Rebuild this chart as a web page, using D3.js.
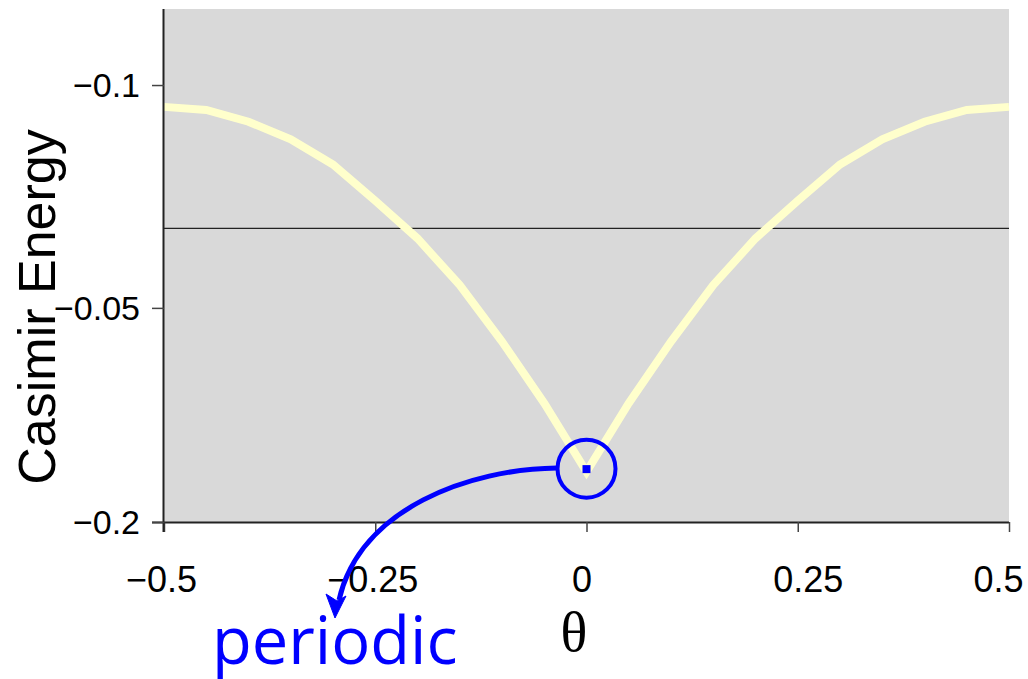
<!DOCTYPE html>
<html>
<head>
<meta charset="utf-8">
<script src="https://cdn.jsdelivr.net/npm/d3@7"></script>
<style>
  html, body { margin: 0; padding: 0; background: #fff; }
  svg { display: block; }
</style>
</head>
<body>
<svg id="chart" width="1028" height="679"></svg>
<script>
// ---- data ----
const thetaValues = [-0.5, -0.45, -0.4, -0.35, -0.3, -0.25, -0.2, -0.15, -0.1, -0.05, 0,
                     0.05, 0.1, 0.15, 0.2, 0.25, 0.3, 0.35, 0.4, 0.45, 0.5];
const energyValues = [-0.105, -0.1057, -0.1084, -0.1124, -0.1182, -0.1265, -0.1351, -0.1458, -0.1587, -0.1728, -0.1885,
                      -0.1728, -0.1587, -0.1458, -0.1351, -0.1265, -0.1182, -0.1124, -0.1084, -0.1057, -0.105];
const xTickValues = [-0.5, -0.25, 0, 0.25, 0.5];
const xTickLabels = ["\u22120.5", "\u22120.25", "0", "0.25", "0.5"];
const yTickValues = [-0.1, -0.151, -0.2];
const yTickLabels = ["\u22120.1", "\u22120.05", "\u22120.2"];
const referenceLine = [-0.1328];
const markerPoint = [{theta: 0, energy: -0.1879}];
const yDomain = [-0.2, -0.0826];
const xDomain = [-0.5, 0.5];

// ---- layout ----
const svg = d3.select("#chart");
const L = 164, R = 1009, T = 9, B = 522;
const xLabelShift = [-3, -3, -5, 10, -11];
const x = d3.scaleLinear().domain(xDomain).range([L, R]);
const y = d3.scaleLinear().domain(yDomain).range([B, T]);

// plot background
svg.append("rect").attr("x", L).attr("y", T).attr("width", R - L).attr("height", B - T)
  .attr("fill", "#d9d9d9");

// reference line
svg.selectAll(".ref").data(referenceLine).enter().append("line")
  .attr("x1", L).attr("x2", R).attr("y1", d => y(d)).attr("y2", d => y(d))
  .attr("stroke", "#222").attr("stroke-width", 1.3);

// curve
const pts = thetaValues.map((t, i) => [t, energyValues[i]]);
svg.append("path").datum(pts)
  .attr("d", d3.line().x(d => x(d[0])).y(d => y(d[1])))
  .attr("fill", "none").attr("stroke", "#ffffcc").attr("stroke-width", 8)
  .attr("stroke-linejoin", "miter");

// axes
const xAxis = d3.axisBottom(x).tickValues(xTickValues).tickSize(10)
  .tickFormat((d, i) => xTickLabels[i]);
const gx = svg.append("g").attr("transform", `translate(0,${B})`).call(xAxis);
gx.select(".domain").attr("stroke", "#222").attr("stroke-width", 2)
  .attr("d", `M${L - 12},0.5H${R}`);
gx.selectAll(".tick line").attr("stroke", "#444").attr("stroke-width", 1.5);
gx.selectAll(".tick text").attr("y", 70).attr("dy", 0)
  .attr("x", (d, i) => xLabelShift[i])
  .attr("font-family", "'Liberation Sans', Arial, sans-serif").attr("font-size", 36).attr("fill", "#000");

const yAxis = d3.axisLeft(y).tickValues(yTickValues).tickSize(12)
  .tickFormat((d, i) => yTickLabels[i]);
const gy = svg.append("g").attr("transform", `translate(${L},0)`).call(yAxis);
gy.select(".domain").attr("stroke", "#222").attr("stroke-width", 2)
  .attr("d", `M-0.5,${T}V${B + 10}`);
gy.selectAll(".tick line").attr("stroke", "#444").attr("stroke-width", 1.5);
gy.selectAll(".tick text").attr("x", -24).attr("dy", "0.35em")
  .attr("font-family", "'Liberation Sans', Arial, sans-serif").attr("font-size", 34).attr("fill", "#000");

// axis titles
svg.append("text").attr("transform", "translate(55,307) rotate(-90)")
  .attr("text-anchor", "middle")
  .attr("font-family", "'Liberation Sans', Arial, sans-serif").attr("font-size", 52)
  .attr("fill", "#000").text("Casimir Energy");
svg.append("text").attr("x", 574).attr("y", 651).attr("text-anchor", "middle")
  .attr("font-family", "'Liberation Serif', 'Times New Roman', serif").attr("font-size", 56)
  .attr("fill", "#000").text("\u03b8");

// annotation
const blue = "#0000ff";
svg.selectAll(".marker").data(markerPoint).enter().append("rect")
  .attr("x", d => x(d.theta) - 4).attr("y", d => y(d.energy) - 4)
  .attr("width", 8).attr("height", 8).attr("fill", blue);
svg.selectAll(".ring").data(markerPoint).enter().append("circle")
  .attr("cx", d => x(d.theta)).attr("cy", d => y(d.energy) - 0.5).attr("r", 29)
  .attr("fill", "none").attr("stroke", blue).attr("stroke-width", 4);
svg.append("path")
  .attr("d", "M557,468 C470,469 360,508 339,600")
  .attr("fill", "none").attr("stroke", blue).attr("stroke-width", 5);
svg.append("path")
  .attr("d", "M335,618 L326,594 L337,601 L346,596 Z")
  .attr("fill", blue).attr("stroke", blue).attr("stroke-width", 1);
svg.append("text").attr("x", 212).attr("y", 664)
  .attr("font-family", "'Open Sans', sans-serif").attr("font-size", 65)
  .attr("fill", blue).text("periodic");
</script>
</body>
</html>
